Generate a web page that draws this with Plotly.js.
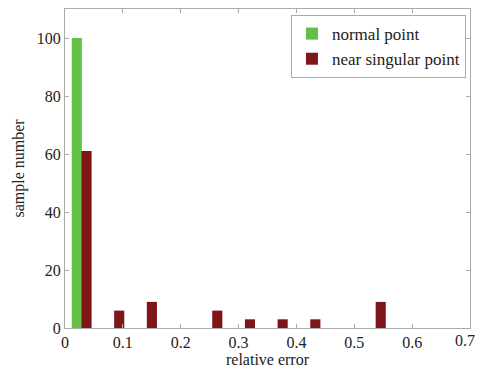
<!DOCTYPE html>
<html><head><meta charset="utf-8">
<script src="https://cdn.plot.ly/plotly-3.0.1.min.js"></script>
<style>body{margin:0;background:#fff}#c{width:478px;height:370px}</style>
</head><body><div id="c"></div>
<script>
const normalX = [0.0204];
const normalY = [100];
const nearX = [0.0372, 0.0937, 0.1502, 0.2632, 0.3197, 0.3762, 0.4327, 0.5457];
const nearY = [61, 6, 9, 6, 3, 3, 3, 9];
const xTicks = [0, 0.1, 0.2, 0.3, 0.4, 0.5, 0.6, 0.7];
const xTickText = ['0', '0.1', '0.2', '0.3', '0.4', '0.5', '0.6', '0.7'];
const yTicks = [0, 20, 40, 60, 80, 100];

const FAM = 'Liberation Serif';
function f(size) { return {family: FAM, size: size, color: '#222'}; }
const traces = [
  {type: 'bar', x: normalX, y: normalY, name: 'normal point', width: 0.0175,
   marker: {color: '#63c044', line: {width: 0}}},
  {type: 'bar', x: nearX, y: nearY, name: 'near singular point', width: 0.0175,
   marker: {color: '#7e1518', line: {width: 0}}}
];
function axis(extra) {
  return Object.assign({showline: true, linecolor: '#aaa', linewidth: 1, mirror: 'ticks',
    ticks: 'inside', ticklen: 4, tickcolor: '#aaa', showgrid: false, zeroline: false,
    tickfont: f(16)}, extra);
}
const layout = {
  width: 478, height: 370,
  margin: {l: 65, r: 8, t: 9, b: 42},
  paper_bgcolor: '#fff', plot_bgcolor: '#fff',
  barmode: 'overlay', showlegend: true,
  font: f(16),
  xaxis: axis({range: [0, 0.70001], tickvals: xTicks.slice(0, -1), ticktext: xTickText.slice(0, -1),
    title: {text: 'relative error', font: f(16), standoff: 2}}),
  yaxis: axis({range: [0, 110], tickvals: yTicks,
    title: {text: 'sample number', font: f(16), standoff: 8}}),
  legend: {x: 0.99, xanchor: 'right', y: 0.981, yanchor: 'top', bgcolor: '#fff',
    bordercolor: '#aaa', borderwidth: 1, font: f(17),
    itemwidth: 30, tracegroupgap: 0},
  annotations: [{x: xTicks[xTicks.length - 1], y: 0, xref: 'x', yref: 'paper', yanchor: 'top',
    yshift: -2, xshift: -5, text: xTickText[xTickText.length - 1], showarrow: false, font: f(16)}]
};
Plotly.newPlot('c', traces, layout, {staticPlot: true});
</script></body></html>
